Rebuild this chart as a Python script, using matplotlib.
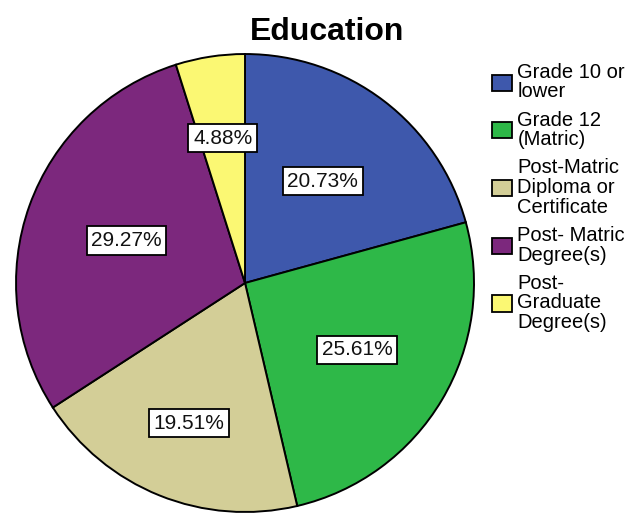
import matplotlib
matplotlib.use("Agg")
import matplotlib.pyplot as plt
import numpy as np

categories = ["Grade 10 or\nlower", "Grade 12\n(Matric)", "Post-Matric\nDiploma or\nCertificate",
              "Post- Matric\nDegree(s)", "Post-\nGraduate\nDegree(s)"]
values = [20.73, 25.61, 19.51, 29.27, 4.88]
colors = ["#3E58AC", "#2EB848", "#D3CE97", "#7C287D", "#FBF873"]
# radial placement of the percentage labels (fraction of radius), layout only
label_dist = [0.56, 0.57, 0.66, 0.55, 0.64]

plt.rcParams['font.family'] = ['Liberation Sans', 'DejaVu Sans']

fig = plt.figure(figsize=(6.35, 5.14), dpi=100)
ax = fig.add_axes([0.0252, 0.0039, 0.7213, 0.891])
wedges, texts, autotexts = ax.pie(
    values, colors=colors, startangle=90, counterclock=False,
    autopct=lambda p: f"{p:.2f}%", pctdistance=0.6,
    wedgeprops=dict(edgecolor="black", linewidth=1.4),
    textprops=dict(fontsize=15, color="#111111"))
for w, t, d in zip(wedges, autotexts, label_dist):
    mid = np.deg2rad((w.theta1 + w.theta2) / 2)
    t.set_position((d * np.cos(mid), d * np.sin(mid)))
    t.set_bbox(dict(facecolor="white", edgecolor="black", boxstyle="square,pad=0.22", linewidth=1.3))
ax.set_aspect("equal")
ax.set_xlim(-1, 1)
ax.set_ylim(-1, 1)

fig.text(0.515, 0.9387, "Education", fontsize=23, fontweight="bold", ha="center", va="center")

leg = fig.legend(wedges, categories, loc="upper left", bbox_to_anchor=(0.775, 0.878),
                 frameon=False, fontsize=14.5, handlelength=1.0, handleheight=0.85,
                 handletextpad=0.25, labelspacing=0.45, borderaxespad=0, borderpad=0)
for txt in leg.get_texts():
    txt.set_linespacing(1.05)
for h in leg.legend_handles:
    h.set_edgecolor("black")
    h.set_linewidth(1.3)

fig.savefig("out.png", dpi=100)
